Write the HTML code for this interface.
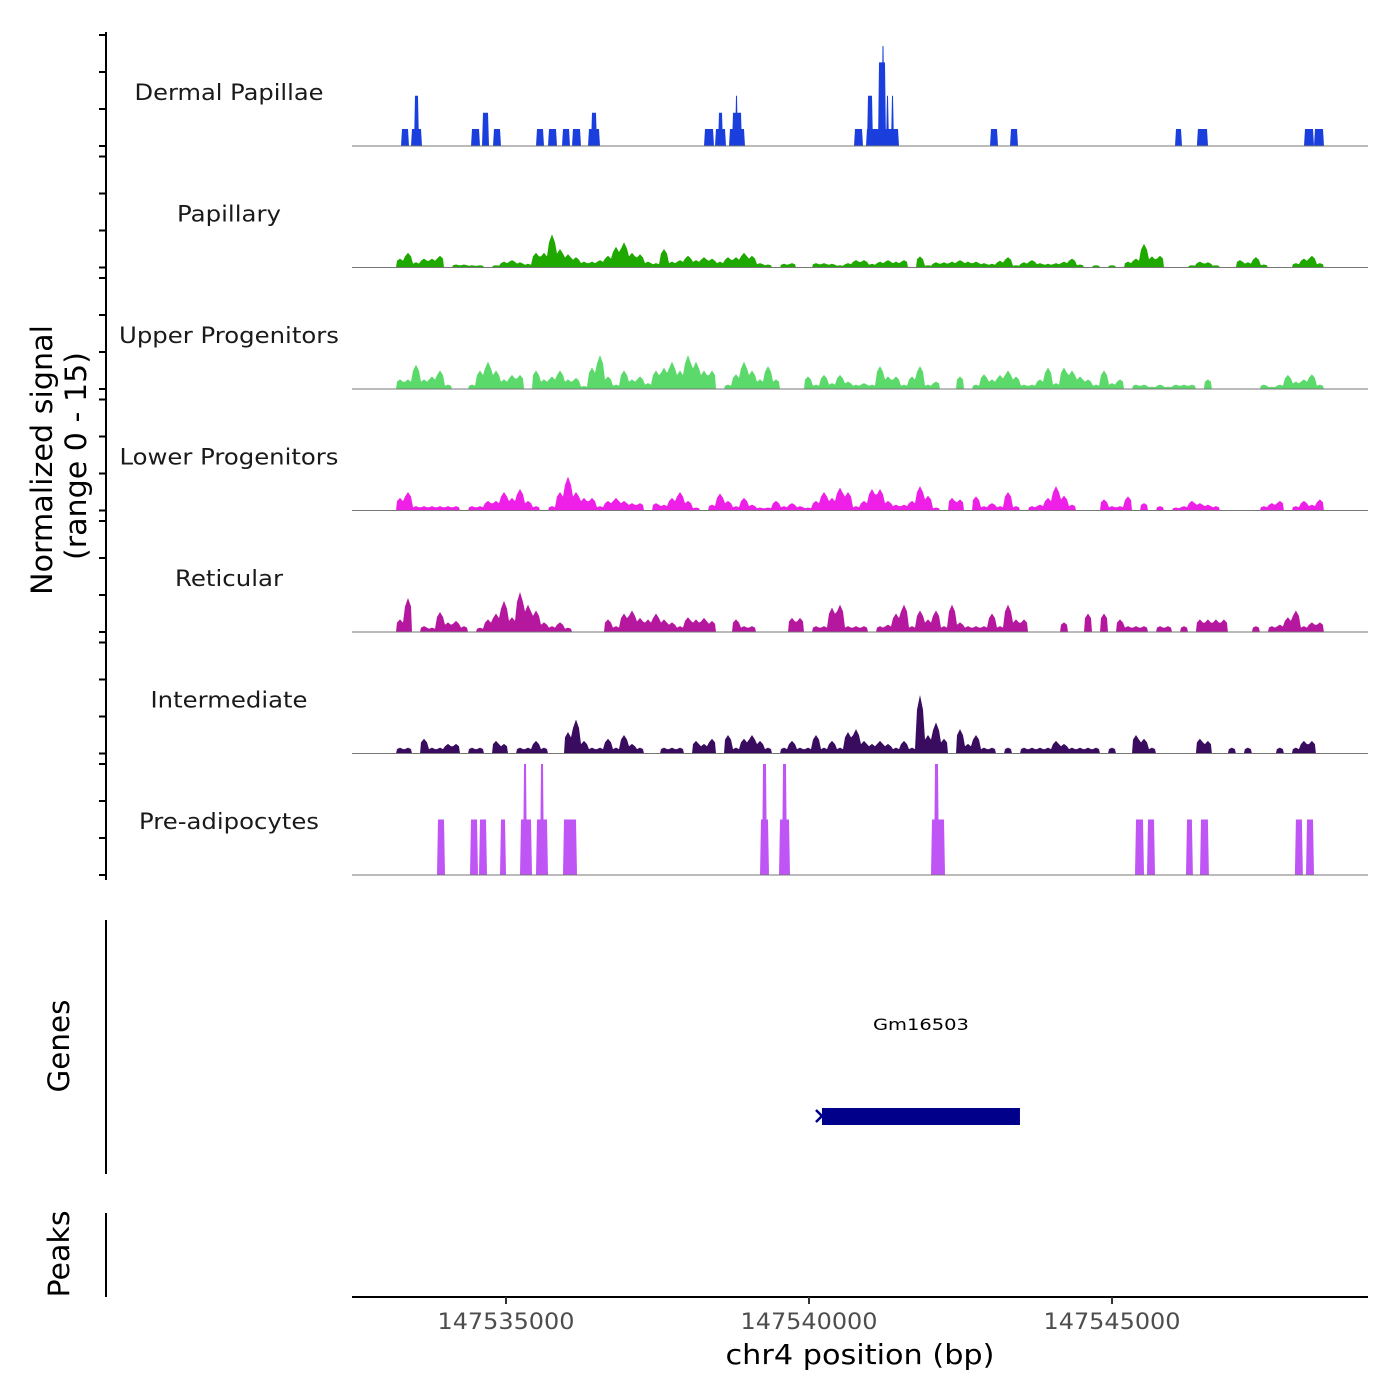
<!DOCTYPE html>
<html><head><meta charset="utf-8"><title>Coverage plot</title>
<style>
html,body{margin:0;padding:0;background:#fff;}
svg{display:block;font-family:"DejaVu Sans","Liberation Sans",sans-serif;}
</style></head>
<body>
<svg id="chart" width="1400" height="1400" viewBox="0 0 1400 1400" xmlns="http://www.w3.org/2000/svg">
<rect width="1400" height="1400" fill="#fff"/>
<g id="tracks"></g>
<g id="axes"></g>
<text transform="translate(52,460) rotate(-90)" text-anchor="middle" font-size="29" textLength="270" lengthAdjust="spacingAndGlyphs" fill="#000">Normalized signal</text>
<text transform="translate(86,456) rotate(-90)" text-anchor="middle" font-size="29" textLength="208" lengthAdjust="spacingAndGlyphs" fill="#000">(range 0 - 15)</text>
<text transform="translate(69,1046) rotate(-90)" text-anchor="middle" font-size="29" textLength="93" lengthAdjust="spacingAndGlyphs" fill="#000">Genes</text>
<text transform="translate(69,1254) rotate(-90)" text-anchor="middle" font-size="29" textLength="87" lengthAdjust="spacingAndGlyphs" fill="#000">Peaks</text>
<text x="860" y="1364" text-anchor="middle" font-size="28" textLength="269" lengthAdjust="spacingAndGlyphs" fill="#000">chr4 position (bp)</text>
</svg>
<script>
// ---- data ----
const trackNames = ["Dermal Papillae","Papillary","Upper Progenitors","Lower Progenitors","Reticular","Intermediate","Pre-adipocytes"];
const trackColors = ["#1a3fdd","#1fa800","#5bd96a","#ee1fe6","#b5179f","#3a0c5f","#bf55f5"];
const binStart = 147533185;
const binSize = 132;
const papillary = [1.2,2,0.7,1.2,1.2,1.6,0,0.4,0.4,0.3,0.3,0,0.3,0.8,1,0.7,0.5,2,2,4.5,2.5,1.8,1.4,0.8,0.8,1,1.6,2.8,3.4,2,1.8,0.8,0.6,2.5,0.8,1,1.6,1,1.4,1.2,0.8,1.4,1.4,2,1.6,0.6,0.4,0,0.5,0.6,0,0,0.6,0.6,0.5,0.3,0.6,1,
1,0.5,0.8,1,0.8,1,0,1.5,0.3,0.7,0.7,0.8,1,0.8,0.8,0.6,0.5,0.9,1.4,0.3,0.7,1,0.6,0.5,0.6,0.8,1.2,0.4,0,0.3,0,0.3,0,0.8,1.2,3.2,1.5,1.6,0,0,0,0.3,0.8,0.7,0.3,0,0,1,0.7,1.4,0.4,0,0,0,0.6,1.2,1.6,0.6];
const upperProg = [1.3,1.3,3.3,1.3,1.7,2.5,0.6,0,0,0.6,2.5,3.7,2.5,1.3,1.9,1.9,0,2.5,1.3,1.7,2.5,1.3,1.5,0.4,2.9,4.6,1.7,0.6,2.5,1.3,1.7,0.8,2.5,2.9,3.7,2.5,4.6,3.7,2.5,2.5,0,0.6,2,3.7,2.5,1.3,3.1,1.3,0,0,0,1.7,0.6,1.9,0.8,1.9,1,0.6,
0.8,0.6,3.1,1.7,1.7,0.6,1.7,3.1,0.6,1,0,0,1.7,0,0.6,2,1.3,1.9,2.5,1.7,0.6,0.6,1.3,2.9,0.8,2.9,2.5,1.7,1.3,0.6,2.5,0.8,1.3,0,0.6,0.6,0.3,0.6,0.3,0.6,0.6,0.6,0,1.3,0,0,0,0,0,0,0.6,0.3,0.6,1.9,1,1.3,2,0.6];
const lowerProg = [1.7,2.5,0.6,0.6,0.6,0.6,0.6,0.6,0,0.6,0.6,1.3,1.3,2.5,1.7,2.9,1.3,0.6,0,0.6,2.5,4.6,2.5,1.7,1.7,0.6,1.3,1.7,1.3,1,1,0,1,0.8,1.7,2.5,1.3,0.4,0,0.8,2.3,1.3,0.6,1.7,0.8,0.4,0.4,1.3,0.6,1,0.6,0.4,1.3,2.5,1.7,3.1,2.5,0.6,
1.3,2.9,2.9,1.3,0.8,0.8,1.3,3.3,2,0.4,0,1.7,1.5,0,1.9,0.6,1,0.6,2.5,0.6,0,0.6,0.8,1.7,3.3,2,0.8,0,0,0,1.5,0.6,0.6,1.9,0,1,0,0.6,0,0.4,0.6,1.3,1,0.8,0.6,0,0,0,0,0,0.6,1,1.3,0,0.6,1.3,0.8,1.5];
const reticular = [1.7,4.6,0,0.8,0.6,2.7,1.3,1.5,0.8,0,0.6,1.7,2.5,4.2,2,5.4,3.7,2.9,1.3,0.8,1.3,0.6,0,0,0,0,1.7,0.8,2.5,2.9,1.9,1.7,2.5,1.7,1.3,0.8,2,1.7,1.9,1.5,0,0,1.7,0.8,0.8,0,0,0,0,1.9,1.9,0,0.8,0.8,3.3,3.7,0.8,0.8,
0.8,0,0.8,1,2.5,3.7,0.8,2.9,1.7,2.9,0.8,3.7,1.3,0.8,0.8,0.8,2.5,0.8,3.7,1.7,1.7,0,0,0,0,1.3,0,0,2.5,0,2.5,0,1.7,0.8,0.8,0.8,0,0.8,0.8,0,0.8,0,1.7,1.7,1.7,1.7,0,0,0,0.8,0,0.8,1,2,2.9,0.8,1.3,1.3];
const intermediate = [0.8,0.8,0,2,0.8,0.8,1.3,1.3,0,0.8,0.8,0,1.7,1.3,0,0.8,0.8,1.7,0.8,0,0,2.9,4.6,1.7,0.8,0.8,2,0.8,2.5,1.3,0.8,0,0,0.8,0.8,0.8,0,1.7,1.3,2,0,2.5,0.8,2,2.5,1.7,0.8,0,0.8,1.7,0.8,0.8,2.5,0.8,1.7,0.8,2.9,3.3,
1.7,1.3,1.7,1.3,0.8,1.7,0.8,7.9,2.5,4.2,2,0,3.3,1.3,2.5,0.8,0.8,0,0.8,0,0.8,0.8,0.8,0.8,1.7,1.3,0.8,0.8,0.8,0.8,0,0.8,0,0,2.5,2,0.8,0,0,0,0,0,2,1.7,0,0,0.8,0,0.8,0,0,0,0.8,0,0.8,1.7,1.7,0];
// sparse tracks: [start bp, end bp, value]
const dermalStarts = [147533284,147533449,147533499,147534439,147534621,147534802,147535512,147535710,147535941,147536106,147536370,147536419,147538284,147538465,147538515,147538696,147538746,147538795,147540759,147540957,147540973,147541089,147541155,147541212,147541287,147541369,147543003,147543333,147546055,147546418,147548184,147548349];
const dermalEnds   = [147533383,147533598,147533548,147534555,147534703,147534901,147535611,147535825,147536040,147536221,147536535,147536485,147538416,147538614,147538564,147538927,147538878,147538812,147540874,147541089,147541039,147541468,147541254,147541229,147541303,147541386,147543102,147543432,147546138,147546567,147548316,147548481];
const dermalValues = [2.3,2.3,6.8,2.3,4.5,2.3,2.3,2.3,2.3,2.3,2.3,4.5,2.3,2.3,4.5,2.3,4.5,6.8,2.3,2.3,6.8,2.3,11.3,13.5,6.8,6.8,2.3,2.3,2.3,2.3,2.3,2.3];
const preStarts = [147533878,147534423,147534571,147534918,147535248,147535297,147535512,147535578,147535957,147539208,147539241,147539521,147539571,147542029,147542079,147545395,147545593,147546237,147546468,147548035,147548217];
const preEnds   = [147533977,147534522,147534670,147534984,147535413,147535330,147535677,147535611,147536155,147539323,147539290,147539670,147539620,147542227,147542128,147545511,147545692,147546319,147546583,147548134,147548316];
const preValues = [7.5,7.5,7.5,7.5,7.5,15,7.5,15,7.5,7.5,15,7.5,15,7.5,15,7.5,7.5,7.5,7.5,7.5,7.5];
const geneName = "Gm16503";
const geneStart = 147540214;
const geneEnd = 147543481;
const xTicks = [147535000,147540000,147545000];
const yTicks = [0,5,10,15];

// ---- scales ----
const NS = "http://www.w3.org/2000/svg";
const X0 = 352, X1 = 1368, BP0 = 147532459, BP1 = 147549224;
function xs(bp){ return X0 + (bp - BP0) / (BP1 - BP0) * (X1 - X0); }
const PX_PER_UNIT = 7.4;
function baseY(k){ return 146 + k * 121.5; }
function ys(k, v){ return baseY(k) - v * PX_PER_UNIT; }
function el(tag, attrs, parent){ const e=document.createElementNS(NS,tag); for(const a in attrs) e.setAttribute(a,attrs[a]); parent.appendChild(e); return e; }

const tracksG = document.getElementById('tracks');
const axesG = document.getElementById('axes');
const labelLens = [189,104,220,219,108,157,180];
const denseData = [null,papillary,upperProg,lowerProg,reticular,intermediate,null];

for (let k=0;k<7;k++){
  const g = el('g',{},tracksG);
  
  
  const lab = el('text',{x:229,y:baseY(k)-46,'text-anchor':'middle','font-size':22,fill:'#1a1a1a',textLength:labelLens[k],lengthAdjust:'spacingAndGlyphs'},g);
  lab.textContent = trackNames[k];
  
  
  const by = baseY(k);
  const vals = denseData[k];
  if (vals){
    let pts = [];
    let runOpen = false;
    for (let i=0;i<vals.length;i++){
      const x0 = xs(binStart + i*binSize), x1 = xs(binStart + (i+1)*binSize);
      const v = vals[i];
      if (v>0){
        if(!runOpen){ pts.push([x0,by]); runOpen=true; }
        pts.push([x0+1, ys(k,v*0.75)]);
        pts.push([(x0+x1)/2, ys(k,v)]);
        pts.push([x1-1, ys(k,v*0.75)]);
      } else if (runOpen){ pts.push([x0,by]); runOpen=false; }
    }
    if (runOpen) pts.push([xs(binStart+vals.length*binSize),by]);
    let poly=[];
    for(const p of pts){
      poly.push(p);
      if(p[1]===by && poly.length>1){
        const a = el('polygon',{points:poly.map(q=>q[0].toFixed(1)+','+q[1].toFixed(1)).join(' '),fill:trackColors[k]},g);
        
        
        poly=[];
      }
    }
  } else {
    const S = k===0?dermalStarts:preStarts, E = k===0?dermalEnds:preEnds, V = k===0?dermalValues:preValues;
    for (let i=0;i<S.length;i++){
      const xa=xs(S[i]), xb=xs(E[i]), yt=ys(k,V[i]);
      const p = el('polygon',{points:`${(xa-1).toFixed(1)},${by} ${xa.toFixed(1)},${yt.toFixed(1)} ${xb.toFixed(1)},${yt.toFixed(1)} ${(xb+1).toFixed(1)},${by}`,fill:trackColors[k]},g);
      
      
    }
  }
  const bl = el('line',{x1:X0,x2:X1,y1:by,y2:by,stroke:'#777',"stroke-width":1},g);
  
  
  for (const t of yTicks){
    const tk = el('line',{x1:99,x2:106,y1:ys(k,t),y2:ys(k,t),stroke:'#000','stroke-width':2},axesG);
    
    
  }
}
const ya = el('line',{x1:106,x2:106,y1:32,y2:880,stroke:'#000','stroke-width':2},axesG);


const ga = el('line',{x1:106,x2:106,y1:920,y2:1174,stroke:'#000','stroke-width':2},axesG);


const pa = el('line',{x1:106,x2:106,y1:1213,y2:1297,stroke:'#000','stroke-width':2},axesG);


const xa = el('line',{x1:X0,x2:X1,y1:1297,y2:1297,stroke:'#000','stroke-width':2},axesG);


for (const t of xTicks){
  const x = xs(t);
  const tk = el('line',{x1:x,x2:x,y1:1297,y2:1304,stroke:'#333','stroke-width':2},axesG);
  
  
  const tl = el('text',{x:x,y:1329,'text-anchor':'middle','font-size':22,fill:'#4d4d4d',textLength:137,lengthAdjust:'spacingAndGlyphs'},axesG);
  tl.textContent = String(t);
  
  
}
const gg = el('g',{},axesG);


const gx0 = xs(geneStart), gx1 = xs(geneEnd);
const gr = el('rect',{x:gx0,y:1108,width:gx1-gx0,height:17,fill:'#00008b'},gg);


const arr = el('path',{d:`M${gx0-6},1110 L${gx0},1116 L${gx0-6},1122`,stroke:'#00008b','stroke-width':2.5,fill:'none'},gg);


const gt = el('text',{x:(gx0+gx1)/2,y:1030,'text-anchor':'middle','font-size':16,fill:'#000',textLength:96,lengthAdjust:'spacingAndGlyphs'},gg);
gt.textContent = geneName;


</script>
</body></html>
